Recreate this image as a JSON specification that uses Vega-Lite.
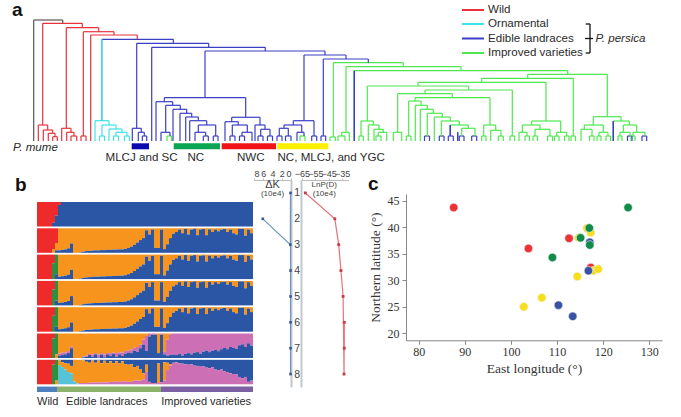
{
"$schema":"https://vega.github.io/schema/vega-lite/v6.json",
"padding":0,"spacing":0,"background":"white",
"resolve":{"scale":{"color":"independent"}},
"config":{"view":{"stroke":null},"text":{"font":"Liberation Sans"},"axis":{"labelFont":"Liberation Sans","titleFont":"Liberation Sans"}},
"vconcat":[
{"width":681,"height":169,
"layer":[
{"data":{"name":"tree","values":[
{"l":33.7,"r":62.7,"top":121,"lb":0,"rb":117.7,"c":"root"},
{"l":42.7,"r":82.3,"top":117.7,"lb":16,"rb":113.3,"c":"wild"},
{"l":66.3,"r":98.7,"top":113.3,"lb":12.7,"rb":109.3,"c":"wild"},
{"l":83.3,"r":114,"top":109.3,"lb":5,"rb":106,"c":"wild"},
{"l":90.7,"r":137.3,"top":106,"lb":0,"rb":101.7,"c":"wild"},
{"l":38.3,"r":47.7,"top":16,"lb":0,"rb":11,"c":"wild"},
{"l":43.3,"r":52.7,"top":11,"lb":0,"rb":7.7,"c":"wild"},
{"l":48.3,"r":55,"top":7.7,"lb":0,"rb":4.3,"c":"wild"},
{"l":52.7,"r":57.3,"top":4.3,"lb":0,"rb":0,"c":"wild"},
{"l":61.7,"r":71,"top":12.7,"lb":0,"rb":8.7,"c":"wild"},
{"l":66.7,"r":74,"top":8.7,"lb":0,"rb":5,"c":"wild"},
{"l":71,"r":76.7,"top":5,"lb":0,"rb":0,"c":"wild"},
{"l":81,"r":86,"top":5,"lb":0,"rb":0,"c":"wild"},
{"l":101.7,"r":173.3,"top":101.7,"lb":20.3,"rb":97.7,"c":"edible"},
{"l":101.7,"r":101.7,"top":101.7,"lb":20.3,"rb":20.3,"c":"orn"},
{"l":95,"r":109,"top":20.3,"lb":0,"rb":16,"c":"orn"},
{"l":102,"r":116,"top":16,"lb":5,"rb":12,"c":"orn"},
{"l":99.5,"r":104.5,"top":5,"lb":0,"rb":0,"c":"orn"},
{"l":109,"r":122,"top":12,"lb":0,"rb":8.7,"c":"orn"},
{"l":116,"r":127,"top":8.7,"lb":5,"rb":5,"c":"orn"},
{"l":113.5,"r":118.5,"top":5,"lb":0,"rb":0,"c":"orn"},
{"l":124.5,"r":129.5,"top":5,"lb":0,"rb":0,"c":"orn"},
{"l":136.7,"r":208.7,"top":97.7,"lb":12.7,"rb":93.7,"c":"edible"},
{"l":132.3,"r":141.3,"top":12.7,"lb":0,"rb":8.7,"c":"edible"},
{"l":138.3,"r":144.3,"top":8.7,"lb":0,"rb":5,"c":"edible"},
{"l":142.3,"r":146.7,"top":5,"lb":0,"rb":0,"c":"edible"},
{"l":151.7,"r":265.3,"top":93.7,"lb":0,"rb":90,"c":"edible"},
{"l":205,"r":325,"top":90,"lb":43.3,"rb":86,"c":"edible"},
{"l":164.3,"r":245.7,"top":43.3,"lb":39.3,"rb":23.7,"c":"edible"},
{"l":156,"r":172.7,"top":39.3,"lb":0,"rb":35.7,"c":"edible"},
{"l":165.7,"r":180.3,"top":35.7,"lb":8.7,"rb":31.7,"c":"edible"},
{"l":161,"r":170,"top":8.7,"lb":0,"rb":5,"c":"edible"},
{"l":167,"r":171.5,"top":5,"lb":0,"rb":0,"c":"improved"},
{"l":173,"r":186.7,"top":31.7,"lb":0,"rb":27.7,"c":"edible"},
{"l":180,"r":191.7,"top":27.7,"lb":0,"rb":24,"c":"edible"},
{"l":185.7,"r":198.3,"top":24,"lb":0,"rb":20.3,"c":"edible"},
{"l":189.7,"r":206.7,"top":20.3,"lb":0,"rb":16,"c":"edible"},
{"l":198.3,"r":215.7,"top":16,"lb":8.7,"rb":5,"c":"edible"},
{"l":195,"r":205.7,"top":8.7,"lb":0,"rb":5,"c":"edible"},
{"l":203.3,"r":208.3,"top":5,"lb":0,"rb":0,"c":"edible"},
{"l":213.3,"r":218,"top":5,"lb":0,"rb":0,"c":"edible"},
{"l":231.7,"r":260,"top":23.7,"lb":19.3,"rb":16,"c":"edible"},
{"l":225,"r":238.3,"top":19.3,"lb":0,"rb":16,"c":"edible"},
{"l":232.3,"r":247.3,"top":16,"lb":5,"rb":8.7,"c":"edible"},
{"l":230,"r":235,"top":5,"lb":0,"rb":0,"c":"edible"},
{"l":242,"r":252,"top":8.7,"lb":5,"rb":0,"c":"edible"},
{"l":239.5,"r":244.5,"top":5,"lb":0,"rb":0,"c":"edible"},
{"l":255,"r":265,"top":16,"lb":0,"rb":11.7,"c":"edible"},
{"l":260.7,"r":270,"top":11.7,"lb":5,"rb":5,"c":"edible"},
{"l":258,"r":263,"top":5,"lb":0,"rb":0,"c":"edible"},
{"l":267.5,"r":272.5,"top":5,"lb":0,"rb":0,"c":"edible"},
{"l":304,"r":346,"top":86,"lb":20.3,"rb":82,"c":"edible"},
{"l":293.3,"r":314,"top":20.3,"lb":16,"rb":5,"c":"edible"},
{"l":284,"r":301.7,"top":16,"lb":12.7,"rb":8.7,"c":"edible"},
{"l":279.3,"r":288.3,"top":12.7,"lb":5,"rb":5,"c":"edible"},
{"l":277,"r":282,"top":5,"lb":0,"rb":0,"c":"edible"},
{"l":285.5,"r":291,"top":5,"lb":0,"rb":0,"c":"edible"},
{"l":297,"r":304,"top":8.7,"lb":0,"rb":5,"c":"edible"},
{"l":300,"r":305,"top":5,"lb":0,"rb":0,"c":"improved"},
{"l":311.7,"r":316.7,"top":5,"lb":0,"rb":0,"c":"edible"},
{"l":323.3,"r":368.3,"top":82,"lb":5,"rb":78.3,"c":"edible"},
{"l":321,"r":325.7,"top":5,"lb":0,"rb":0,"c":"edible"},
{"l":333.3,"r":403.3,"top":78.3,"lb":4,"rb":74.3,"c":"improved"},
{"l":330,"r":335.3,"top":4,"lb":0,"rb":0,"c":"improved"},
{"l":346,"r":461,"top":74.3,"lb":8.7,"rb":70.3,"c":"improved"},
{"l":341.7,"r":349.3,"top":8.7,"lb":5,"rb":0,"c":"improved"},
{"l":338,"r":345,"top":5,"lb":0,"rb":0,"c":"improved"},
{"l":354.3,"r":567.7,"top":70.3,"lb":0,"rb":66.7,"c":"improved"},
{"l":354.3,"r":354.3,"top":70.3,"lb":0,"rb":0,"c":"edible"},
{"l":527.7,"r":607.3,"top":66.7,"lb":62.7,"rb":24.3,"c":"improved"},
{"l":481.7,"r":573.3,"top":62.7,"lb":58.7,"rb":5,"c":"improved"},
{"l":418,"r":546,"top":58.7,"lb":55,"rb":20,"c":"improved"},
{"l":367.3,"r":468.7,"top":55,"lb":20,"rb":51,"c":"improved"},
{"l":425,"r":512.3,"top":51,"lb":47.3,"rb":5,"c":"improved"},
{"l":397.7,"r":452.3,"top":47.3,"lb":8.7,"rb":43.3,"c":"improved"},
{"l":393.3,"r":401.7,"top":8.7,"lb":0,"rb":0,"c":"improved"},
{"l":415,"r":490,"top":43.3,"lb":40,"rb":16,"c":"improved"},
{"l":408.7,"r":421,"top":40,"lb":5,"rb":35.7,"c":"improved"},
{"l":406.3,"r":411,"top":5,"lb":0,"rb":0,"c":"improved"},
{"l":415.3,"r":427.3,"top":35.7,"lb":0,"rb":31.7,"c":"improved"},
{"l":420.3,"r":433.3,"top":31.7,"lb":0,"rb":27.7,"c":"improved"},
{"l":427.3,"r":442.3,"top":27.7,"lb":5,"rb":24,"c":"improved"},
{"l":424.5,"r":429.5,"top":5,"lb":0,"rb":0,"c":"edible"},
{"l":434.3,"r":450.3,"top":24,"lb":0,"rb":20,"c":"improved"},
{"l":441.3,"r":459.3,"top":20,"lb":5,"rb":16,"c":"improved"},
{"l":439.3,"r":444,"top":5,"lb":0,"rb":0,"c":"edible"},
{"l":450.3,"r":468.3,"top":16,"lb":5,"rb":12.7,"c":"improved"},
{"l":450.3,"r":450.3,"top":16,"lb":5,"rb":5,"c":"edible"},
{"l":448.3,"r":453.3,"top":5,"lb":0,"rb":0,"c":"edible"},
{"l":457.7,"r":457.7,"top":8.7,"lb":0,"rb":0,"c":"edible"},
{"l":461.7,"r":475,"top":12.7,"lb":5,"rb":5,"c":"improved"},
{"l":459.3,"r":464,"top":5,"lb":0,"rb":0,"c":"edible"},
{"l":471.7,"r":476.7,"top":5,"lb":0,"rb":0,"c":"edible"},
{"l":483.7,"r":495.7,"top":16,"lb":5,"rb":10.7,"c":"improved"},
{"l":481.7,"r":486,"top":5,"lb":0,"rb":0,"c":"improved"},
{"l":490.7,"r":501,"top":10.7,"lb":0,"rb":5,"c":"improved"},
{"l":498.3,"r":503.3,"top":5,"lb":0,"rb":0,"c":"improved"},
{"l":510,"r":514.7,"top":5,"lb":0,"rb":0,"c":"improved"},
{"l":361,"r":373.3,"top":20,"lb":5,"rb":16,"c":"improved"},
{"l":359,"r":363.3,"top":5,"lb":0,"rb":0,"c":"improved"},
{"l":368.3,"r":379,"top":16,"lb":0,"rb":11.7,"c":"improved"},
{"l":374,"r":383.3,"top":11.7,"lb":0,"rb":8.7,"c":"improved"},
{"l":378.3,"r":386.7,"top":8.7,"lb":5,"rb":0,"c":"improved"},
{"l":376,"r":381,"top":5,"lb":0,"rb":0,"c":"improved"},
{"l":531.7,"r":560.7,"top":20,"lb":16,"rb":8.7,"c":"improved"},
{"l":522.3,"r":540,"top":16,"lb":8.7,"rb":11.7,"c":"improved"},
{"l":519,"r":527,"top":8.7,"lb":0,"rb":5,"c":"improved"},
{"l":525,"r":529.5,"top":5,"lb":0,"rb":0,"c":"improved"},
{"l":535,"r":550,"top":11.7,"lb":5,"rb":5,"c":"improved"},
{"l":533,"r":537.5,"top":5,"lb":0,"rb":0,"c":"improved"},
{"l":547.5,"r":552.5,"top":5,"lb":0,"rb":0,"c":"improved"},
{"l":556.7,"r":566.7,"top":8.7,"lb":5,"rb":5,"c":"improved"},
{"l":554.5,"r":559,"top":5,"lb":0,"rb":0,"c":"improved"},
{"l":564.5,"r":569,"top":5,"lb":0,"rb":0,"c":"improved"},
{"l":571,"r":575.5,"top":5,"lb":0,"rb":0,"c":"improved"},
{"l":593.3,"r":621,"top":24.3,"lb":16,"rb":20,"c":"improved"},
{"l":584.3,"r":603.3,"top":16,"lb":11.7,"rb":8.7,"c":"improved"},
{"l":581,"r":592,"top":11.7,"lb":0,"rb":5,"c":"improved"},
{"l":589.5,"r":594,"top":5,"lb":0,"rb":0,"c":"improved"},
{"l":599,"r":608,"top":8.7,"lb":5,"rb":5,"c":"improved"},
{"l":597,"r":601,"top":5,"lb":0,"rb":0,"c":"improved"},
{"l":606,"r":610.5,"top":5,"lb":0,"rb":0,"c":"improved"},
{"l":613.3,"r":629.3,"top":20,"lb":0,"rb":16,"c":"improved"},
{"l":613.3,"r":613.3,"top":20,"lb":0,"rb":0,"c":"edible"},
{"l":623.3,"r":636.7,"top":16,"lb":8.7,"rb":8.7,"c":"improved"},
{"l":620,"r":630,"top":8.7,"lb":5,"rb":5,"c":"improved"},
{"l":618,"r":622,"top":5,"lb":0,"rb":0,"c":"improved"},
{"l":627.5,"r":632,"top":5,"lb":0,"rb":0,"c":"edible"},
{"l":633,"r":645,"top":8.7,"lb":5,"rb":5,"c":"improved"},
{"l":631,"r":635,"top":5,"lb":0,"rb":0,"c":"improved"},
{"l":642,"r":646.7,"top":5,"lb":0,"rb":0,"c":"edible"}
]},
"mark":{"type":"rule","strokeWidth":1.2},
"encoding":{
"x":{"field":"l","type":"quantitative","scale":{"domain":[0,681],"nice":false},"axis":null},
"x2":{"field":"r"},
"y":{"field":"top","type":"quantitative","scale":{"domain":[-28,141],"nice":false,"zero":false},"axis":null},
"color":{"field":"c","type":"nominal","legend":null,"scale":{"domain":["root","wild","orn","edible","improved","MLCJ and SC","NC","NWC","YGC"],"range":["#555555","#e8333a","#3fe3e6","#3b3fc4","#4ee84e","#0a0ab0","#0aa552","#f01418","#fff000"]}}}},
{"data":{"name":"tree"},"mark":{"type":"rule","strokeWidth":1.2},
"encoding":{"x":{"field":"l","type":"quantitative"},"y":{"field":"top","type":"quantitative"},"y2":{"field":"lb"},"color":{"field":"c","type":"nominal","legend":null}}},
{"data":{"name":"tree"},"mark":{"type":"rule","strokeWidth":1.2},
"encoding":{"x":{"field":"r","type":"quantitative"},"y":{"field":"top","type":"quantitative"},"y2":{"field":"rb"},"color":{"field":"c","type":"nominal","legend":null}}},
{"data":{"values":[
{"from":131.7,"to":149,"group":"MLCJ and SC"},
{"from":173.7,"to":220,"group":"NC"},
{"from":221.7,"to":276,"group":"NWC"},
{"from":277.3,"to":328.3,"group":"YGC"}]},
"mark":{"type":"rect"},
"encoding":{"x":{"field":"from","type":"quantitative"},"x2":{"field":"to"},"y":{"datum":-2.3,"type":"quantitative"},"y2":{"datum":-8.3},"color":{"field":"group","type":"nominal","legend":null}}},
{"data":{"values":[
{"x":462,"x2":484,"y":131,"c":"wild"},
{"x":462,"x2":484,"y":117,"c":"orn"},
{"x":462,"x2":484,"y":102.5,"c":"edible"},
{"x":462,"x2":484,"y":88,"c":"improved"}]},
"mark":{"type":"rule","strokeWidth":2},
"encoding":{"x":{"field":"x","type":"quantitative"},"x2":{"field":"x2"},"y":{"field":"y","type":"quantitative"},"color":{"field":"c","type":"nominal","legend":null}}},
{"data":{"values":[
{"x":585.7,"x2":590,"y":117,"y2":117},
{"x":585.7,"x2":590,"y":88,"y2":88},
{"x":585,"x2":593,"y":102.5,"y2":102.5},
{"x":590,"x2":590,"y":117,"y2":88}]},
"mark":{"type":"rule","strokeWidth":1.3,"color":"#111111"},
"encoding":{"x":{"field":"x","type":"quantitative"},"x2":{"field":"x2"},"y":{"field":"y","type":"quantitative"},"y2":{"field":"y2"}}},
{"data":{"values":[
{"t":"Wild","x":488,"y":131},
{"t":"Ornamental","x":488,"y":117},
{"t":"Edible landraces","x":488,"y":102.5},
{"t":"Improved varieties","x":488,"y":88},
{"t":"MLCJ and SC","x":105.5,"y":-17},
{"t":"NC","x":187.5,"y":-17},
{"t":"NWC","x":237,"y":-17},
{"t":"NC, MLCJ, and YGC","x":277.5,"y":-17}]},
"mark":{"type":"text","align":"left","baseline":"middle","fontSize":11.6,"color":"#2a2a2a"},
"encoding":{"x":{"field":"x","type":"quantitative"},"y":{"field":"y","type":"quantitative"},"text":{"field":"t"}}},
{"data":{"values":[
{"t":"P. mume","x":13,"y":-7},
{"t":"P. persica","x":595.5,"y":102.5}]},
"mark":{"type":"text","align":"left","baseline":"middle","fontSize":11.6,"fontStyle":"italic","color":"#2a2a2a"},
"encoding":{"x":{"field":"x","type":"quantitative"},"y":{"field":"y","type":"quantitative"},"text":{"field":"t"}}},
{"data":{"values":[{"t":"a","x":12,"y":131}]},
"mark":{"type":"text","align":"left","baseline":"middle","fontSize":19,"fontWeight":"bold","color":"#111111"},
"encoding":{"x":{"field":"x","type":"quantitative"},"y":{"field":"y","type":"quantitative"},"text":{"field":"t"}}}
]},
{"spacing":0,"resolve":{"scale":{"color":"independent"}},"hconcat":[
{"width":36,"height":22,"data":{"values":[{"t":"b","x":15,"y":4.5}]},
"mark":{"type":"text","align":"left","baseline":"middle","fontSize":19,"fontWeight":"bold","color":"#111111"},
"encoding":{"x":{"field":"x","type":"quantitative","scale":{"domain":[0,36],"nice":false},"axis":null},"y":{"field":"y","type":"quantitative","scale":{"domain":[22,0],"nice":false},"axis":null},"text":{"field":"t"}}},
{"spacing":0,"resolve":{"scale":{"color":"independent"}},"vconcat":[
{"width":216,"height":21.5,"data":{"values":[{}]},"mark":{"type":"rule","opacity":0},"encoding":{}},
{"data":{"values":[
{"k":[1,2,3,4,5,6,7],"s":1,"a":1},{"k":[1,2,3,4,5,6,7],"s":2,"a":1},{"k":[1,2,3,4,5,6,7],"s":3,"a":1},{"k":[1,2,3,4,5,6,7],"s":4,"a":1},{"k":[1,2,3,4,5,6,7],"s":5,"a":1},
{"k":[1],"s":6,"a":0.85,"g":0.15},{"k":[1],"s":7,"a":0.55,"g":0.45},{"k":[1],"s":8,"a":0.12,"g":0.88},
{"k":[2],"s":6,"a":0.85,"d":0.15},{"k":[2],"s":7,"a":0.6,"d":0.3,"g":0.1},
{"k":[3,4,5],"s":6,"a":0.35,"b":0.65},{"k":[3,4,5],"s":7,"b":0.8,"g":0.2},
{"k":[6,7],"s":6,"a":0.2,"b":0.8},{"k":[6],"s":7,"b":0.85,"d":0.15},{"k":[7],"s":7,"b":0.85,"d":0.15},
{"k":[1],"s":9,"g":1},{"k":[1],"s":10,"g":1},{"k":[1],"s":11,"g":1},{"k":[1],"s":12,"g":1},{"k":[1],"s":13,"g":1},{"k":[1],"s":14,"g":1},{"k":[1],"s":15,"g":1},{"k":[1],"s":16,"g":1},{"k":[1],"s":17,"g":1},{"k":[1],"s":18,"g":1},{"k":[1],"s":19,"g":1},{"k":[1],"s":20,"g":1},{"k":[1],"s":21,"g":1},{"k":[1],"s":22,"g":1},{"k":[1],"s":23,"g":1},{"k":[1],"s":24,"g":1},{"k":[1],"s":25,"g":1},{"k":[1],"s":26,"g":1},{"k":[1],"s":27,"g":1},{"k":[1],"s":28,"g":1},{"k":[1],"s":29,"g":1},{"k":[1],"s":30,"g":1},{"k":[1],"s":31,"g":1},{"k":[1],"s":32,"g":1},{"k":[1],"s":33,"g":1},{"k":[1],"s":34,"g":1},{"k":[1],"s":35,"g":1},{"k":[1],"s":36,"g":1},{"k":[1],"s":37,"g":1},{"k":[1],"s":38,"g":1},{"k":[1],"s":39,"g":1},{"k":[1],"s":40,"g":1},{"k":[1],"s":41,"g":1},{"k":[1],"s":42,"g":1},{"k":[1],"s":43,"g":1},{"k":[1],"s":44,"g":1},{"k":[1],"s":45,"g":1},{"k":[1],"s":46,"g":1},{"k":[1],"s":47,"g":1},{"k":[1],"s":48,"g":1},{"k":[1],"s":49,"g":1},{"k":[1],"s":50,"g":1},{"k":[1],"s":51,"g":1},{"k":[1],"s":52,"g":1},{"k":[1],"s":53,"g":1},{"k":[1],"s":54,"g":1},{"k":[1],"s":55,"g":1},{"k":[1],"s":56,"g":1},{"k":[1],"s":57,"g":1},{"k":[1],"s":58,"g":1},{"k":[1],"s":59,"g":1},{"k":[1],"s":60,"g":1},{"k":[1],"s":61,"g":1},{"k":[1],"s":62,"g":1},{"k":[1],"s":63,"g":1},{"k":[1],"s":64,"g":1},{"k":[1],"s":65,"g":1},{"k":[1],"s":66,"g":1},{"k":[1],"s":67,"g":1},{"k":[1],"s":68,"g":1},{"k":[1],"s":69,"g":1},{"k":[1],"s":70,"g":1},{"k":[1],"s":71,"g":1},{"k":[1],"s":72,"g":1},
{"k":[2,3,4,5],"s":8,"g":0.1,"d":0.9},{"k":[2,3,4,5],"s":9,"g":0.12,"d":0.88},{"k":[2,3,4,5],"s":10,"g":0.14,"d":0.86},{"k":[2,3,4,5],"s":11,"g":0.18,"d":0.82},{"k":[2,3,4,5],"s":12,"g":0.38,"d":0.62},{"k":[2,3,4,5],"s":13,"d":1},{"k":[2,3,4,5],"s":14,"d":1},{"k":[2,3,4,5],"s":15,"g":0.02,"d":0.98},{"k":[2,3,4,5],"s":16,"g":0.05,"d":0.95},{"k":[2,3,4,5],"s":17,"g":0.07,"d":0.93},{"k":[2,3,4,5],"s":18,"g":0.08,"d":0.92},{"k":[2,3,4,5],"s":19,"g":0.09,"d":0.91},{"k":[2,3,4,5],"s":20,"g":0.1,"d":0.9},{"k":[2,3,4,5],"s":21,"g":0.1,"d":0.9},{"k":[2,3,4,5],"s":22,"g":0.11,"d":0.89},{"k":[2,3,4,5],"s":23,"g":0.11,"d":0.89},{"k":[2,3,4,5],"s":24,"g":0.12,"d":0.88},{"k":[2,3,4,5],"s":25,"g":0.12,"d":0.88},{"k":[2,3,4,5],"s":26,"g":0.13,"d":0.87},{"k":[2,3,4,5],"s":27,"g":0.13,"d":0.87},{"k":[2,3,4,5],"s":28,"g":0.14,"d":0.86},{"k":[2,3,4,5],"s":29,"g":0.14,"d":0.86},{"k":[2,3,4,5],"s":30,"g":0.16,"d":0.84},{"k":[2,3,4,5],"s":31,"g":0.2,"d":0.8},{"k":[2,3,4,5],"s":32,"g":0.25,"d":0.75},{"k":[2,3,4,5],"s":33,"g":0.33,"d":0.67},{"k":[2,3,4,5],"s":34,"g":0.42,"d":0.58},{"k":[2,3,4,5],"s":35,"g":0.52,"d":0.48},{"k":[2,3,4,5],"s":36,"g":0.6,"d":0.4},{"k":[2,3,4,5],"s":37,"g":0.92,"d":0.08},{"k":[2,3,4,5],"s":38,"g":0.75,"d":0.25},{"k":[2,3,4,5],"s":39,"g":0.95,"d":0.05},{"k":[2,3,4,5],"s":40,"g":0.2,"d":0.8},{"k":[2,3,4,5],"s":41,"g":0.2,"d":0.8},{"k":[2,3,4,5],"s":42,"g":0.95,"d":0.05},{"k":[2,3,4,5],"s":43,"g":0.15,"d":0.85},{"k":[2,3,4,5],"s":44,"g":0.35,"d":0.65},{"k":[2,3,4,5],"s":45,"g":0.6,"d":0.4},{"k":[2,3,4,5],"s":46,"g":0.78,"d":0.22},{"k":[2,3,4,5],"s":47,"g":0.85,"d":0.15},{"k":[2,3,4,5],"s":48,"g":0.95,"d":0.05},{"k":[2,3,4,5],"s":49,"g":0.8,"d":0.2},{"k":[2,3,4,5],"s":50,"g":0.98,"d":0.02},{"k":[2,3,4,5],"s":51,"g":0.75,"d":0.25},{"k":[2,3,4,5],"s":52,"g":0.95,"d":0.05},{"k":[2,3,4,5],"s":53,"g":0.98,"d":0.02},{"k":[2,3,4,5],"s":54,"g":0.72,"d":0.28},{"k":[2,3,4,5],"s":55,"g":0.95,"d":0.05},{"k":[2,3,4,5],"s":56,"g":0.97,"d":0.03},{"k":[2,3,4,5],"s":57,"g":0.72,"d":0.28},{"k":[2,3,4,5],"s":58,"g":0.96,"d":0.04},{"k":[2,3,4,5],"s":59,"g":0.85,"d":0.15},{"k":[2,3,4,5],"s":60,"g":0.95,"d":0.05},{"k":[2,3,4,5],"s":61,"g":0.88,"d":0.12},{"k":[2,3,4,5],"s":62,"g":0.95,"d":0.05},{"k":[2,3,4,5],"s":63,"g":0.97,"d":0.03},{"k":[2,3,4,5],"s":64,"g":0.85,"d":0.15},{"k":[2,3,4,5],"s":65,"g":0.95,"d":0.05},{"k":[2,3,4,5],"s":66,"g":0.8,"d":0.2},{"k":[2,3,4,5],"s":67,"g":0.75,"d":0.25},{"k":[2,3,4,5],"s":68,"g":0.98,"d":0.02},{"k":[2,3,4,5],"s":69,"g":0.98,"d":0.02},{"k":[2,3,4,5],"s":70,"g":0.7,"d":0.3},{"k":[2,3,4,5],"s":71,"g":0.95,"d":0.05},{"k":[2,3,4,5],"s":72,"g":0.8,"d":0.2},
{"k":[6],"s":8,"g":0.1,"e":0.08,"d":0.82},{"k":[6],"s":9,"g":0.12,"e":0.1,"d":0.78},{"k":[6],"s":10,"g":0.15,"e":0.08,"d":0.77},{"k":[6],"s":11,"g":0.2,"e":0.08,"d":0.72},{"k":[6],"s":12,"g":0.4,"e":0.06,"d":0.54},{"k":[6],"s":13,"d":1},{"k":[6],"s":14,"d":1},{"k":[6],"s":15,"d":1},{"k":[6],"s":16,"g":0.03,"e":0.03,"d":0.94},{"k":[6],"s":17,"g":0.05,"e":0.05,"d":0.9},{"k":[6],"s":18,"g":0.12,"e":0.05,"d":0.83},{"k":[6],"s":19,"g":0.05,"e":0.1,"d":0.85},{"k":[6],"s":20,"g":0.15,"e":0.05,"d":0.8},{"k":[6],"s":21,"g":0.02,"e":0.12,"d":0.86},{"k":[6],"s":22,"g":0.14,"e":0.06,"d":0.8},{"k":[6],"s":23,"g":0.03,"e":0.12,"d":0.85},{"k":[6],"s":24,"g":0.15,"e":0.05,"d":0.8},{"k":[6],"s":25,"g":0.08,"e":0.12,"d":0.8},{"k":[6],"s":26,"g":0.16,"e":0.06,"d":0.78},{"k":[6],"s":27,"g":0.05,"e":0.15,"d":0.8},{"k":[6],"s":28,"g":0.15,"e":0.08,"d":0.77},{"k":[6],"s":29,"g":0.08,"e":0.14,"d":0.78},{"k":[6],"s":30,"g":0.18,"e":0.1,"d":0.72},{"k":[6],"s":31,"g":0.22,"e":0.08,"d":0.7},{"k":[6],"s":32,"g":0.2,"e":0.15,"d":0.65},{"k":[6],"s":33,"g":0.3,"e":0.12,"d":0.58},{"k":[6],"s":34,"g":0.25,"e":0.2,"d":0.55},{"k":[6],"s":35,"g":0.4,"e":0.15,"d":0.45},{"k":[6],"s":36,"g":0.55,"e":0.2,"d":0.25},{"k":[6],"s":37,"g":0.3,"e":0.6,"d":0.1},{"k":[6],"s":38,"g":0.88,"e":0.12},{"k":[6],"s":39,"g":0.95,"e":0.05},{"k":[6],"s":40,"g":0.95,"e":0.05},{"k":[6],"s":41,"g":0.2,"d":0.8},{"k":[6],"s":42,"g":0.95,"e":0.05},{"k":[6],"s":43,"g":0.15,"e":0.1,"d":0.75},{"k":[6],"s":44,"g":0.1,"e":0.65,"d":0.25},{"k":[6],"s":45,"g":0.12,"e":0.85,"d":0.03},{"k":[6],"s":46,"g":0.14,"e":0.86},{"k":[6],"s":47,"g":0.12,"e":0.88},{"k":[6],"s":48,"g":0.16,"e":0.84},{"k":[6],"s":49,"g":0.1,"e":0.9},{"k":[6],"s":50,"g":0.18,"e":0.82},{"k":[6],"s":51,"g":0.2,"e":0.8},{"k":[6],"s":52,"g":0.15,"e":0.85},{"k":[6],"s":53,"g":0.22,"e":0.78},{"k":[6],"s":54,"g":0.24,"e":0.76},{"k":[6],"s":55,"g":0.18,"e":0.82},{"k":[6],"s":56,"g":0.26,"e":0.74},{"k":[6],"s":57,"g":0.3,"e":0.7},{"k":[6],"s":58,"g":0.24,"e":0.76},{"k":[6],"s":59,"g":0.3,"e":0.7},{"k":[6],"s":60,"g":0.34,"e":0.66},{"k":[6],"s":61,"g":0.28,"e":0.72},{"k":[6],"s":62,"g":0.36,"e":0.64},{"k":[6],"s":63,"g":0.42,"e":0.58},{"k":[6],"s":64,"g":0.36,"e":0.64},{"k":[6],"s":65,"g":0.45,"e":0.55},{"k":[6],"s":66,"g":0.42,"e":0.58},{"k":[6],"s":67,"g":0.38,"e":0.62},{"k":[6],"s":68,"g":0.52,"e":0.48},{"k":[6],"s":69,"g":0.56,"e":0.44},{"k":[6],"s":70,"g":0.45,"e":0.55},{"k":[6],"s":71,"g":0.6,"e":0.4},{"k":[6],"s":72,"g":0.5,"e":0.5},
{"k":[7],"s":8,"c":0.02,"d":0.2,"f":0.78},{"k":[7],"s":9,"c":0.1,"d":0.2,"f":0.7},{"k":[7],"s":10,"c":0.14,"d":0.26,"f":0.6},{"k":[7],"s":11,"c":0.16,"d":0.34,"f":0.5},{"k":[7],"s":12,"c":0.25,"d":0.3,"f":0.45},{"k":[7],"s":13,"d":0.88,"f":0.12},{"k":[7],"s":14,"d":0.97,"f":0.03},{"k":[7],"s":15,"d":0.95,"e":0.05},{"k":[7],"s":16,"c":0.02,"d":0.93,"e":0.05},{"k":[7],"s":17,"c":0.08,"d":0.87,"e":0.05},{"k":[7],"s":18,"c":0.12,"d":0.82,"e":0.06},{"k":[7],"s":19,"c":0.03,"d":0.9,"e":0.07},{"k":[7],"s":20,"c":0.12,"d":0.8,"e":0.08},{"k":[7],"s":21,"c":0.03,"d":0.9,"e":0.07},{"k":[7],"s":22,"c":0.14,"d":0.78,"e":0.08},{"k":[7],"s":23,"c":0.04,"d":0.88,"e":0.08},{"k":[7],"s":24,"c":0.14,"d":0.78,"e":0.08},{"k":[7],"s":25,"c":0.06,"d":0.84,"e":0.1},{"k":[7],"s":26,"c":0.14,"d":0.76,"e":0.1},{"k":[7],"s":27,"c":0.06,"d":0.82,"e":0.12},{"k":[7],"s":28,"c":0.15,"d":0.75,"e":0.1},{"k":[7],"s":29,"c":0.06,"d":0.82,"e":0.12},{"k":[7],"s":30,"c":0.18,"d":0.7,"e":0.12},{"k":[7],"s":31,"c":0.2,"d":0.7,"e":0.1},{"k":[7],"s":32,"c":0.18,"d":0.72,"e":0.1},{"k":[7],"s":33,"c":0.3,"d":0.55,"e":0.15},{"k":[7],"s":34,"c":0.25,"d":0.6,"e":0.15},{"k":[7],"s":35,"c":0.4,"d":0.45,"e":0.15},{"k":[7],"s":36,"c":0.55,"d":0.25,"e":0.2},{"k":[7],"s":37,"c":0.2,"d":0.3,"e":0.5},{"k":[7],"s":38,"c":0.9,"e":0.1},{"k":[7],"s":39,"c":0.95,"e":0.05},{"k":[7],"s":40,"c":0.95,"e":0.05},{"k":[7],"s":41,"c":0.15,"d":0.8,"e":0.05},{"k":[7],"s":42,"c":0.92,"e":0.08},{"k":[7],"s":43,"c":0.1,"d":0.75,"e":0.15},{"k":[7],"s":44,"c":0.12,"d":0.3,"e":0.58},{"k":[7],"s":45,"c":0.18,"d":0.05,"e":0.77},{"k":[7],"s":46,"c":0.12,"e":0.88},{"k":[7],"s":47,"c":0.1,"e":0.9},{"k":[7],"s":48,"c":0.14,"e":0.86},{"k":[7],"s":49,"c":0.16,"e":0.84},{"k":[7],"s":50,"c":0.18,"e":0.82},{"k":[7],"s":51,"c":0.2,"e":0.8},{"k":[7],"s":52,"c":0.18,"e":0.82},{"k":[7],"s":53,"c":0.24,"e":0.76},{"k":[7],"s":54,"c":0.25,"e":0.75},{"k":[7],"s":55,"c":0.28,"e":0.72},{"k":[7],"s":56,"c":0.26,"e":0.74},{"k":[7],"s":57,"c":0.32,"e":0.68},{"k":[7],"s":58,"c":0.35,"e":0.65},{"k":[7],"s":59,"c":0.3,"e":0.7},{"k":[7],"s":60,"c":0.4,"e":0.6},{"k":[7],"s":61,"c":0.42,"e":0.58},{"k":[7],"s":62,"c":0.4,"e":0.6},{"k":[7],"s":63,"c":0.48,"e":0.52},{"k":[7],"s":64,"c":0.5,"e":0.5},{"k":[7],"s":65,"c":0.55,"e":0.45},{"k":[7],"s":66,"c":0.58,"e":0.42},{"k":[7],"s":67,"c":0.6,"e":0.4},{"k":[7],"s":68,"c":0.7,"e":0.3},{"k":[7],"s":69,"c":0.75,"e":0.25},{"k":[7],"s":70,"c":0.7,"e":0.3},{"k":[7],"s":71,"c":0.9,"e":0.1},{"k":[7],"s":72,"c":0.85,"e":0.15}
]},
"transform":[{"flatten":["k"]},{"fold":["a","b","c","d","e","f","g"],"as":["cluster","share"]},{"filter":"datum.share > 0"}],
"spacing":1.3,
"facet":{"row":{"field":"k","type":"ordinal","header":null}},
"spec":{"width":216,"height":24.5,
"mark":{"type":"bar","strokeWidth":0},
"encoding":{
"x":{"field":"s","type":"ordinal","axis":null,"scale":{"paddingInner":0,"paddingOuter":0}},
"y":{"field":"share","type":"quantitative","axis":null,"scale":{"domain":[0,1],"nice":false},"stack":"zero"},
"color":{"field":"cluster","type":"nominal","legend":null,"scale":{"domain":["a","b","c","d","e","f","g"],"range":["#ee2a2a","#2f8f3f","#2a56a5","#f7941e","#cc6fb5","#56c3d6","#2a56a5"]}}}}},
{"width":216,"height":25,
"layer":[
{"data":{"values":[
{"from":0,"to":6.67,"group":"Wild"},
{"from":6.67,"to":41.33,"group":"Edible landraces"},
{"from":41.33,"to":72,"group":"Improved varieties"}]},
"mark":{"type":"rect"},
"encoding":{"x":{"field":"from","type":"quantitative","scale":{"domain":[0,72],"nice":false,"zero":false},"axis":null},"x2":{"field":"to"},
"y":{"datum":1.6,"type":"quantitative","scale":{"domain":[25,0],"nice":false},"axis":null},"y2":{"datum":7},
"color":{"field":"group","type":"nominal","legend":null,"scale":{"domain":["Wild","Edible landraces","Improved varieties"],"range":["#4f7fbd","#8db36b","#7d60a3"]}}}},
{"data":{"values":[
{"t":"Wild","x":0,"y":17},
{"t":"Edible landraces","x":9.7,"y":17},
{"t":"Improved varieties","x":41.4,"y":17}]},
"mark":{"type":"text","align":"left","baseline":"middle","fontSize":11,"color":"#2a2a2a"},
"encoding":{"x":{"field":"x","type":"quantitative"},"y":{"field":"y","type":"quantitative"},"text":{"field":"t"}}}
]}
]},
{"width":37,"height":207,
"layer":[
{"data":{"values":[{"k":1,"dk":0.1},{"k":2,"dk":6.1},{"k":3,"dk":0.15},{"k":4,"dk":0.1},{"k":5,"dk":0.1},{"k":6,"dk":0.1},{"k":7,"dk":0.1},{"k":8,"dk":0.1}]},
"mark":{"type":"line","color":"#6f94c0","strokeWidth":1.2},
"encoding":{
"x":{"field":"dk","type":"quantitative","scale":{"domain":[8,0],"nice":false},"axis":{"orient":"top","values":[8,6,4,2,0],"title":null,"grid":false,"labelOverlap":false,"labelFontSize":9,"labelColor":"#444444","labelPadding":0,"tickSize":2,"tickColor":"#bbbbbb","domainColor":"#bbbbbb"}},
"y":{"field":"k","type":"quantitative","scale":{"domain":[8.5,0.5],"nice":false,"zero":false},"axis":{"orient":"right","values":[1,2,3,4,5,6,7,8],"title":null,"grid":false,"labels":false,"ticks":false,"domainColor":"#c2c8cc","domainWidth":2}}}},
{"data":{"values":[{"k":1,"dk":0.1},{"k":2,"dk":6.1},{"k":3,"dk":0.15},{"k":4,"dk":0.1},{"k":5,"dk":0.1},{"k":6,"dk":0.1},{"k":7,"dk":0.1},{"k":8,"dk":0.1}]},
"mark":{"type":"point","filled":true,"shape":"square","size":7,"color":"#3a5a98","opacity":1},
"encoding":{
"x":{"field":"dk","type":"quantitative","axis":{"orient":"top","values":[8,6,4,2,0],"title":null,"grid":false,"labelOverlap":false,"labelFontSize":9,"labelColor":"#444444","labelPadding":0,"tickSize":2,"tickColor":"#bbbbbb","domainColor":"#bbbbbb"}},
"y":{"field":"k","type":"quantitative","axis":{"orient":"right","values":[1,2,3,4,5,6,7,8],"title":null,"grid":false,"labels":false,"ticks":false,"domainColor":"#c2c8cc","domainWidth":2}}}},
{"data":{"values":[{"t":"ΔK","x":4,"y":0.68,"size":11},{"t":"(10e4)","x":4,"y":1.06,"size":8}]},
"mark":{"type":"text","color":"#444444","baseline":"middle"},
"encoding":{
"x":{"field":"x","type":"quantitative","axis":{"orient":"top","values":[8,6,4,2,0],"title":null,"grid":false,"labelOverlap":false,"labelFontSize":9,"labelColor":"#444444","labelPadding":0,"tickSize":2,"tickColor":"#bbbbbb","domainColor":"#bbbbbb"}},
"y":{"field":"y","type":"quantitative","axis":{"orient":"right","values":[1,2,3,4,5,6,7,8],"title":null,"grid":false,"labels":false,"ticks":false,"domainColor":"#c2c8cc","domainWidth":2}},
"text":{"field":"t"},"size":{"field":"size","type":"quantitative","scale":null,"legend":null}}}
]},
{"width":47.3,"height":207,
"layer":[
{"data":{"values":[{"k":1,"lnp":-62.5},{"k":2,"lnp":-40.4},{"k":3,"lnp":-37.5},{"k":4,"lnp":-35.8},{"k":5,"lnp":-34.2},{"k":6,"lnp":-33.3},{"k":7,"lnp":-33.3},{"k":8,"lnp":-33.5}]},
"mark":{"type":"line","color":"#e8737a","strokeWidth":1.2},
"encoding":{
"x":{"field":"lnp","type":"quantitative","scale":{"domain":[-65.75,-30.3],"nice":false,"zero":false},"axis":{"orient":"top","values":[-65,-55,-45,-35],"title":null,"grid":false,"labelOverlap":false,"labelFontSize":9,"labelColor":"#444444","labelPadding":0,"tickSize":2,"tickColor":"#bbbbbb","domainColor":"#bbbbbb"}},
"y":{"field":"k","type":"quantitative","scale":{"domain":[8.5,0.5],"nice":false,"zero":false},"axis":{"orient":"left","values":[1,2,3,4,5,6,7,8],"format":"d","title":null,"grid":false,"labelOverlap":false,"labelFontSize":10.5,"labelColor":"#444444","labelPadding":1.5,"ticks":false,"domainColor":"#c2c8cc","domainWidth":2}}}},
{"data":{"values":[{"k":1,"lnp":-62.5},{"k":2,"lnp":-40.4},{"k":3,"lnp":-37.5},{"k":4,"lnp":-35.8},{"k":5,"lnp":-34.2},{"k":6,"lnp":-33.3},{"k":7,"lnp":-33.3},{"k":8,"lnp":-33.5}]},
"mark":{"type":"point","filled":true,"shape":"square","size":8,"color":"#c83a44","opacity":1},
"encoding":{
"x":{"field":"lnp","type":"quantitative","axis":{"orient":"top","values":[-65,-55,-45,-35],"title":null,"grid":false,"labelOverlap":false,"labelFontSize":9,"labelColor":"#444444","labelPadding":0,"tickSize":2,"tickColor":"#bbbbbb","domainColor":"#bbbbbb"}},
"y":{"field":"k","type":"quantitative","axis":{"orient":"left","values":[1,2,3,4,5,6,7,8],"format":"d","title":null,"grid":false,"labelOverlap":false,"labelFontSize":10.5,"labelColor":"#444444","labelPadding":1.5,"ticks":false,"domainColor":"#c2c8cc","domainWidth":2}}}},
{"data":{"values":[{"t":"LnP(D)","x":-48.3,"y":0.68,"size":8},{"t":"(10e4)","x":-48.3,"y":1.06,"size":8}]},
"mark":{"type":"text","color":"#444444","baseline":"middle"},
"encoding":{
"x":{"field":"x","type":"quantitative","axis":{"orient":"top","values":[-65,-55,-45,-35],"title":null,"grid":false,"labelOverlap":false,"labelFontSize":9,"labelColor":"#444444","labelPadding":0,"tickSize":2,"tickColor":"#bbbbbb","domainColor":"#bbbbbb"}},
"y":{"field":"y","type":"quantitative","axis":{"orient":"left","values":[1,2,3,4,5,6,7,8],"format":"d","title":null,"grid":false,"labelOverlap":false,"labelFontSize":10.5,"labelColor":"#444444","labelPadding":1.5,"ticks":false,"domainColor":"#c2c8cc","domainWidth":2}},
"text":{"field":"t"},"size":{"field":"size","type":"quantitative","scale":null,"legend":null}}}
]},
{"width":17,"height":1,"data":{"values":[{}]},"mark":{"type":"rule","opacity":0},"encoding":{}},
{"spacing":0,"resolve":{"scale":{"color":"independent"}},"vconcat":[
{"width":256,"height":13,"data":{"values":[{"t":"c","x":-38,"y":3.7}]},
"mark":{"type":"text","align":"left","baseline":"middle","fontSize":19,"fontWeight":"bold","color":"#111111"},
"encoding":{"x":{"field":"x","type":"quantitative","scale":{"domain":[0,256],"nice":false},"axis":null},"y":{"field":"y","type":"quantitative","scale":{"domain":[13,0],"nice":false},"axis":null},"text":{"field":"t"}}},
{"width":256,"height":146.3,
"data":{"values":[
{"lon":87.6,"lat":43.7,"group":"red"},{"lon":103.8,"lat":36,"group":"red"},{"lon":112.6,"lat":37.9,"group":"red"},{"lon":117.3,"lat":32.4,"group":"red"},
{"lon":116.5,"lat":39.8,"group":"yellow"},{"lon":117.3,"lat":39,"group":"yellow"},{"lon":114.7,"lat":38,"group":"yellow"},{"lon":117.9,"lat":31.8,"group":"yellow"},{"lon":118.9,"lat":32.1,"group":"yellow"},{"lon":114.4,"lat":30.7,"group":"yellow"},{"lon":106.7,"lat":26.7,"group":"yellow"},{"lon":102.8,"lat":25,"group":"yellow"},
{"lon":117.1,"lat":37.15,"group":"blue"},{"lon":116.8,"lat":31.8,"group":"blue"},{"lon":110.3,"lat":25.3,"group":"blue"},{"lon":113.4,"lat":23.2,"group":"blue"},
{"lon":125.4,"lat":43.7,"group":"green"},{"lon":117,"lat":39.85,"group":"green"},{"lon":115.1,"lat":38,"group":"green"},{"lon":117.1,"lat":36.65,"group":"green"},{"lon":109,"lat":34.3,"group":"green"}
]},
"mark":{"type":"point","filled":true,"shape":"circle","size":72,"opacity":1,"stroke":"#f4f4f4","strokeWidth":0.6},
"encoding":{
"x":{"field":"lon","type":"quantitative","title":"East longitude (°)","scale":{"domain":[77.26,132.75],"nice":false,"zero":false},"axis":{"values":[80,90,100,110,120,130],"grid":false,"labelFont":"Liberation Serif","titleFont":"Liberation Serif","labelFontSize":12,"titleFontSize":13.5,"titleFontWeight":"normal","labelColor":"#333333","titleColor":"#333333","domainColor":"#888888","tickColor":"#888888","tickSize":4,"labelPadding":2,"titlePadding":4}},
"y":{"field":"lat","type":"quantitative","title":"Northern latitude (°)","scale":{"domain":[18.68,46.26],"nice":false,"zero":false},"axis":{"values":[20,25,30,35,40,45],"grid":false,"labelFont":"Liberation Serif","titleFont":"Liberation Serif","labelFontSize":12,"titleFontSize":13.5,"titleFontWeight":"normal","labelColor":"#333333","titleColor":"#333333","domainColor":"#888888","tickColor":"#888888","tickSize":4,"labelPadding":3,"titlePadding":5}},
"color":{"field":"group","type":"nominal","legend":null,"scale":{"domain":["red","yellow","blue","green"],"range":["#ec3237","#f7de1a","#3953a4","#0f8b4a"]}}}}
]}
]}
]}
